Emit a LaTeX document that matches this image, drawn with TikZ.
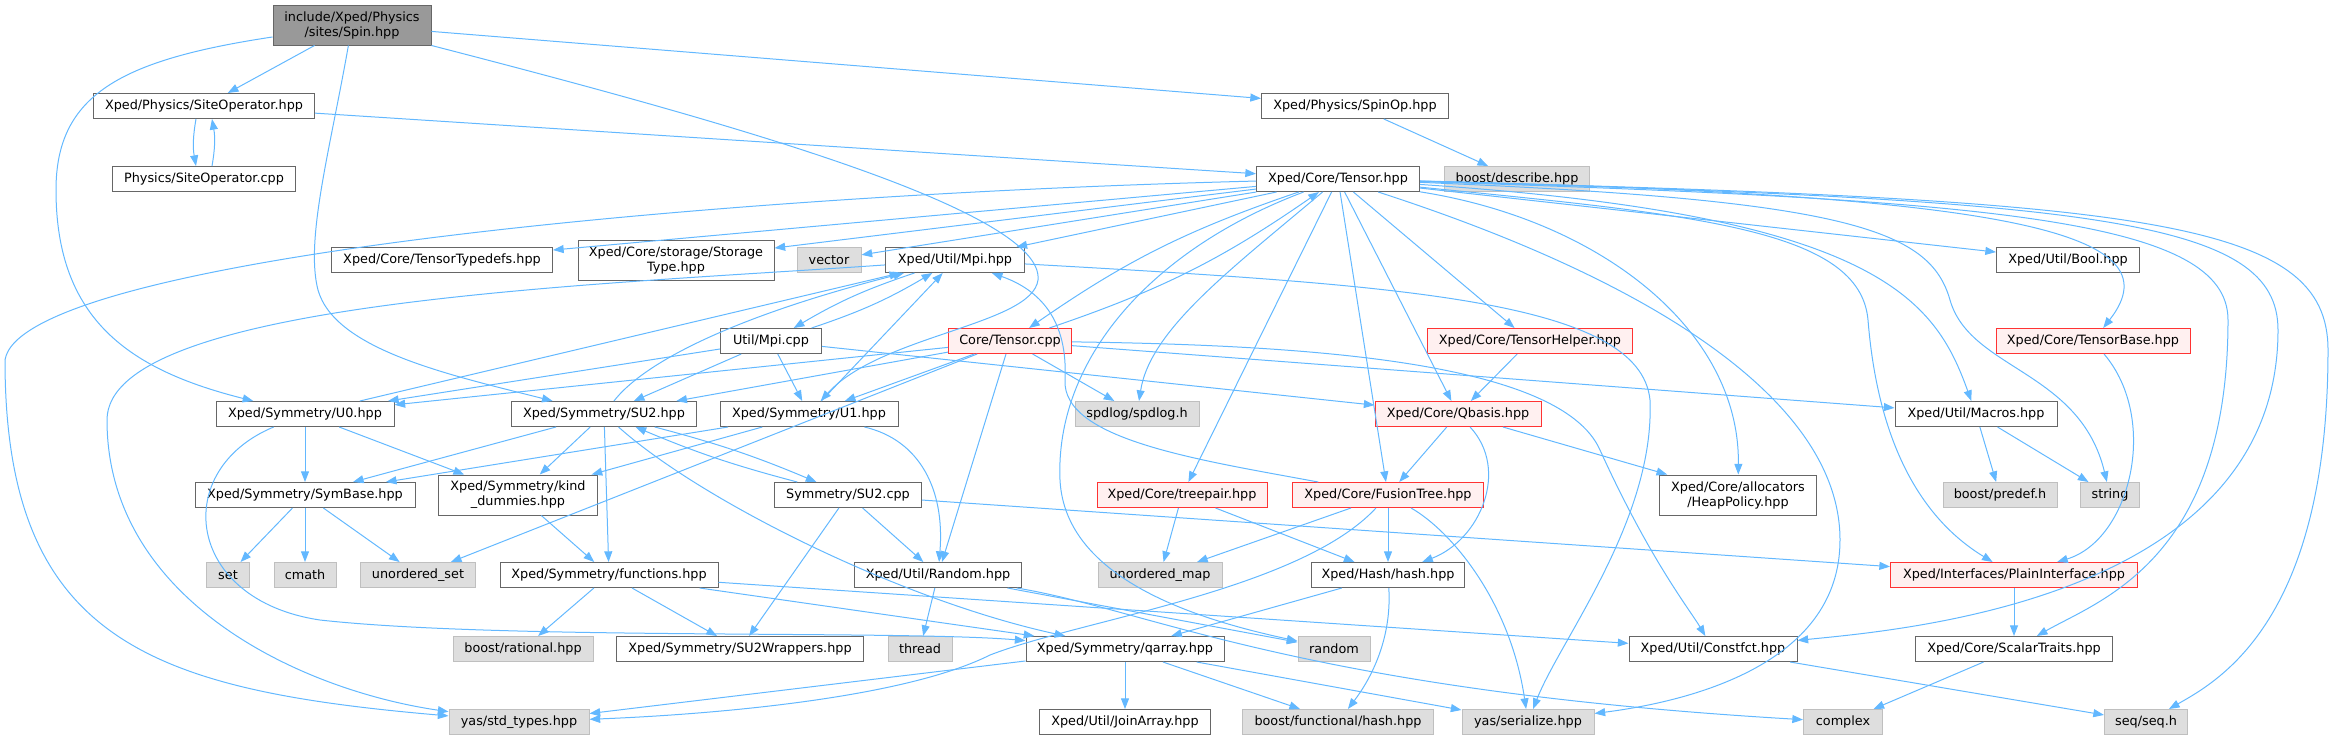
\documentclass[tikz,border=0pt]{standalone}
\usepackage{fontspec}
\setmainfont{DejaVu Sans}
\usepackage{tikz}
\usetikzlibrary{arrows.meta}
\definecolor{linkblue}{HTML}{63B8FF}
\definecolor{framegray}{HTML}{666666}
\definecolor{extframe}{HTML}{BFBFBF}
\definecolor{extfill}{HTML}{DEDEDE}
\definecolor{rootfill}{HTML}{999999}
\definecolor{truncfill}{HTML}{FFF0F0}
\definecolor{truncframe}{HTML}{FF3333}
\tikzset{
  file/.style={draw=framegray, fill=white, line width=0.75pt, minimum height=18.75pt,
    inner xsep=0pt, inner ysep=2pt, align=center, font=\fontsize{9.6}{11.2}\selectfont},
  wd/.style={minimum width=#1*0.75pt},
  tall/.style={minimum height=30pt},
  ext/.style={file, draw=extframe, fill=extfill},
  trunc/.style={file, draw=truncframe, fill=truncfill},
  root/.style={file, draw=framegray, fill=rootfill},
  dep/.style={->, draw=linkblue, line width=0.75pt},
}
\begin{document}
\begin{tikzpicture}[x=0.75pt, y=-0.75pt,
    >={Triangle[length=8pt, width=6pt]}]
  \useasboundingbox (0,0) rectangle (2335,740);
  % Dateien, Zeile fuer Zeile
  \node[root, wd=158, tall] (spin) at (352,25) {include/Xped/Physics\\/sites/Spin.hpp};
  \node[file, wd=221] (siteop) at (204,106) {Xped/Physics/SiteOperator.hpp};
  \node[file, wd=187] (spinop) at (1355,106) {Xped/Physics/SpinOp.hpp};
  \node[file, wd=183] (siteopcpp) at (204,179) {Physics/SiteOperator.cpp};
  \node[file, wd=163] (tensor) at (1338,179) {Xped/Core/Tensor.hpp};
  \node[ext, wd=145] (describe) at (1517,179) {boost/describe.hpp};
  \node[file, wd=221] (typedefs) at (442,260) {Xped/Core/TensorTypedefs.hpp};
  \node[file, wd=196, tall] (storage) at (676,260) {Xped/Core/storage/Storage\\Type.hpp};
  \node[ext, wd=64] (vector) at (829,260) {vector};
  \node[file, wd=139] (mpi) at (955,260) {Xped/Util/Mpi.hpp};
  \node[file, wd=143] (boolh) at (2068,260) {Xped/Util/Bool.hpp};
  \node[file, wd=101] (mpicpp) at (771,341) {Util/Mpi.cpp};
  \node[trunc, wd=123] (tensorcpp) at (1010,341) {Core/Tensor.cpp};
  \node[trunc, wd=205] (helper) at (1530,341) {Xped/Core/TensorHelper.hpp};
  \node[trunc, wd=194] (tbase) at (2093,341) {Xped/Core/TensorBase.hpp};
  \node[file, wd=178] (uzero) at (305,414) {Xped/Symmetry/U0.hpp};
  \node[file, wd=185] (sutwo) at (604,414) {Xped/Symmetry/SU2.hpp};
  \node[file, wd=178] (uone) at (809,414) {Xped/Symmetry/U1.hpp};
  \node[ext, wd=124] (spdlog) at (1137,414) {spdlog/spdlog.h};
  \node[trunc, wd=166] (qbasis) at (1458,414) {Xped/Core/Qbasis.hpp};
  \node[file, wd=162] (macros) at (1976,414) {Xped/Util/Macros.hpp};
  \node[file, wd=220] (symbase) at (305,495) {Xped/Symmetry/SymBase.hpp};
  \node[file, wd=159, tall] (kind) at (518,495) {Xped/Symmetry/kind\\\_dummies.hpp};
  \node[file, wd=147] (sutwocpp) at (848,495) {Symmetry/SU2.cpp};
  \node[trunc, wd=170] (treepair) at (1182,495) {Xped/Core/treepair.hpp};
  \node[trunc, wd=191] (fusion) at (1388,495) {Xped/Core/FusionTree.hpp};
  \node[file, wd=157, tall] (heap) at (1738,495) {Xped/Core/allocators\\/HeapPolicy.hpp};
  \node[ext, wd=114] (predef) at (2000,495) {boost/predef.h};
  \node[ext, wd=59] (string) at (2110,495) {string};
  \node[ext, wd=43] (set) at (228,575) {set};
  \node[ext, wd=62] (cmath) at (305,575) {cmath};
  \node[ext, wd=115] (uset) at (418,575) {unordered\_set};
  \node[file, wd=218] (functions) at (609,575) {Xped/Symmetry/functions.hpp};
  \node[file, wd=167] (randomh) at (938,575) {Xped/Util/Random.hpp};
  \node[ext, wd=124] (umap) at (1160,575) {unordered\_map};
  \node[file, wd=153] (hash) at (1388,575) {Xped/Hash/hash.hpp};
  \node[trunc, wd=247] (plain) at (2014,575) {Xped/Interfaces/PlainInterface.hpp};
  \node[ext, wd=140] (rational) at (523,649) {boost/rational.hpp};
  \node[file, wd=247] (wrappers) at (740,649) {Xped/Symmetry/SU2Wrappers.hpp};
  \node[ext, wd=64] (thread) at (920,649) {thread};
  \node[file, wd=198] (qarray) at (1125,649) {Xped/Symmetry/qarray.hpp};
  \node[ext, wd=72] (random) at (1334,649) {random};
  \node[file, wd=168] (constfct) at (1713,649) {Xped/Util/Constfct.hpp};
  \node[file, wd=197] (scalar) at (2014,649) {Xped/Core/ScalarTraits.hpp};
  \node[ext, wd=140] (stdtypes) at (519,722) {yas/std\_types.hpp};
  \node[file, wd=171] (joinarray) at (1125,722) {Xped/Util/JoinArray.hpp};
  \node[ext, wd=191] (fhash) at (1338,722) {boost/functional/hash.hpp};
  \node[ext, wd=132] (serialize) at (1528,722) {yas/serialize.hpp};
  \node[ext, wd=79] (complex) at (1843,722) {complex};
  \node[ext, wd=83] (seq) at (2146,722) {seq/seq.h};

  % Spin.hpp
  \draw[dep] (spin) -- (siteop);
  \draw[dep] (spin) -- (spinop);
  \draw[dep] (spin) .. controls (120,60) and (56,95) .. (56,190) .. controls (56,320) and (130,370) .. (uzero);
  \draw[dep] (spin) .. controls (330,150) and (305,240) .. (318,290) .. controls (335,350) and (450,375) .. (sutwo);
  \draw[dep] (spin) .. controls (720,120) and (1045,210) .. (1038,280) .. controls (1032,325) and (880,335) .. (uone);
  \draw[dep] ([xshift=-6pt]siteop.south) to[bend right=10] ([xshift=-6pt]siteopcpp.north);
  \draw[dep] ([xshift=6pt]siteopcpp.north) to[bend right=10] ([xshift=6pt]siteop.south);
  \draw[dep] (siteop) -- (tensor);
  \draw[dep] (spinop) -- (describe);

  % Tensor.hpp
  \draw[dep] (tensor) -- (typedefs);
  \draw[dep] (tensor) -- (storage);
  \draw[dep] (tensor) -- (vector);
  \draw[dep] (tensor) -- (mpi);
  \draw[dep] (tensor) -- (boolh);
  \draw[dep] (tensor) -- (helper);
  \draw[dep] (tensor) -- (qbasis);
  \draw[dep] (tensor) -- (fusion);
  \draw[dep] (tensor) -- (treepair);
  \draw[dep] (tensor) .. controls (1230,270) and (1150,330) .. (spdlog);
  \draw[dep] (tensor) to[bend right=8] (tensorcpp);
  \draw[dep] (tensorcpp) to[bend right=8] (tensor);
  \draw[dep] (tensor) .. controls (700,195) and (20,260) .. (5,360) .. controls (5,640) and (150,690) .. (stdtypes);
  \draw[dep] (tensor) .. controls (1150,250) and (1055,360) .. (1060,480) .. controls (1065,580) and (1200,620) .. (random);
  \draw[dep] (tensor) .. controls (1600,220) and (1740,330) .. (heap);
  \draw[dep] (tensor) .. controls (1880,215) and (1935,300) .. (macros);
  \draw[dep] (tensor) .. controls (1700,215) and (1860,230) .. (1868,320) .. controls (1880,470) and (1940,530) .. (plain);
  \draw[dep] (tensor) .. controls (1850,200) and (1930,230) .. (1950,300) .. controls (1970,370) and (2080,370) .. (string);
  \draw[dep] (tensor) .. controls (2000,195) and (2180,230) .. (tbase);
  \draw[dep] (tensor) .. controls (1650,280) and (1840,400) .. (1840,540) .. controls (1840,660) and (1700,700) .. (serialize);
  \draw[dep] (tensor) .. controls (2000,200) and (2228,220) .. (2228,320) .. controls (2228,560) and (2100,600) .. (scalar);
  \draw[dep] (tensor) .. controls (2100,200) and (2278,220) .. (2278,330) .. controls (2278,600) and (1900,630) .. (constfct);
  \draw[dep] (tensor) .. controls (2150,200) and (2328,220) .. (2328,350) .. controls (2328,620) and (2220,680) .. (seq);

  % Mpi
  \draw[dep] (mpi) to[bend right=6] (mpicpp);
  \draw[dep] (mpicpp) to[bend right=6] (mpi);
  \draw[dep] (mpi) .. controls (600,285) and (107,300) .. (107,420) .. controls (107,600) and (300,690) .. (stdtypes);
  \draw[dep] (mpi) .. controls (1400,285) and (1640,300) .. (1650,400) .. controls (1655,520) and (1560,640) .. (serialize);
  \draw[dep] (mpicpp) -- (uzero);
  \draw[dep] (mpicpp) -- (sutwo);
  \draw[dep] (mpicpp) -- (uone);
  \draw[dep] (mpicpp) -- (qbasis);

  % Tensor.cpp
  \draw[dep] (tensorcpp) -- (uzero);
  \draw[dep] (tensorcpp) -- (sutwo);
  \draw[dep] (tensorcpp) -- (uone);
  \draw[dep] (tensorcpp) -- (uset);
  \draw[dep] (tensorcpp) -- (randomh);
  \draw[dep] (tensorcpp) -- (spdlog);
  \draw[dep] (tensorcpp) -- (macros);
  \draw[dep] (tensorcpp) .. controls (1300,345) and (1560,360) .. (1600,450) .. controls (1650,560) and (1690,610) .. (constfct);

  % Symmetrien
  \draw[dep] (uzero) -- (mpi);
  \draw[dep] (uzero) -- (symbase);
  \draw[dep] (uzero) -- (kind);
  \draw[dep] (uzero) .. controls (170,470) and (185,600) .. (320,620) .. controls (500,640) and (900,630) .. (qarray);
  \draw[dep] (sutwo) .. controls (640,367) and (720,320) .. (mpi);
  \draw[dep] (sutwo) -- (symbase);
  \draw[dep] (sutwo) -- (kind);
  \draw[dep] (sutwo) -- (functions);
  \draw[dep] (sutwo) .. controls (700,500) and (900,600) .. (qarray);
  \draw[dep] (sutwo) to[bend left=4] (sutwocpp);
  \draw[dep] (sutwocpp) to[bend left=4] (sutwo);
  \draw[dep] (uone) -- (mpi);
  \draw[dep] (uone) -- (symbase);
  \draw[dep] (uone) -- (kind);
  \draw[dep] (uone) .. controls (920,440) and (945,490) .. (randomh);
  \draw[dep] (sutwocpp) -- (randomh);
  \draw[dep] (sutwocpp) -- (wrappers);
  \draw[dep] (sutwocpp) -- (plain);
  \draw[dep] (symbase) -- (set);
  \draw[dep] (symbase) -- (cmath);
  \draw[dep] (symbase) -- (uset);
  \draw[dep] (kind) -- (functions);
  \draw[dep] (functions) -- (rational);
  \draw[dep] (functions) -- (wrappers);
  \draw[dep] (functions) -- (qarray);
  \draw[dep] (functions) -- (constfct);
  \draw[dep] (randomh) -- (thread);
  \draw[dep] (randomh) -- (random);
  \draw[dep] (randomh) .. controls (1150,610) and (1300,690) .. (complex);

  % Core
  \draw[dep] (helper) -- (qbasis);
  \draw[dep] (qbasis) -- (fusion);
  \draw[dep] (qbasis) .. controls (1510,470) and (1480,540) .. (hash);
  \draw[dep] (qbasis) -- (heap);
  \draw[dep] (treepair) -- (umap);
  \draw[dep] (treepair) -- (hash);
  \draw[dep] (fusion) -- (umap);
  \draw[dep] (fusion) -- (hash);
  \draw[dep] (fusion) .. controls (1450,530) and (1510,600) .. (serialize);
  \draw[dep] (fusion) .. controls (1300,590) and (1080,620) .. (990,655) .. controls (900,700) and (700,715) .. (stdtypes);
  \draw[dep] (fusion) .. controls (1200,460) and (1062,440) .. (1065,380) .. controls (1068,320) and (1040,290) .. (mpi);
  \draw[dep] (tbase) .. controls (2160,420) and (2130,540) .. (plain);
  \draw[dep] (macros) -- (predef);
  \draw[dep] (macros) -- (string);
  \draw[dep] (plain) -- (scalar);
  \draw[dep] (scalar) -- (complex);
  \draw[dep] (constfct) -- (seq);
  \draw[dep] (hash) -- (qarray);
  \draw[dep] (hash) .. controls (1392,640) and (1370,680) .. (fhash);
  \draw[dep] (qarray) -- (joinarray);
  \draw[dep] (qarray) -- (fhash);
  \draw[dep] (qarray) -- (serialize);
  \draw[dep] (qarray) -- (stdtypes);
\end{tikzpicture}
\end{document}
